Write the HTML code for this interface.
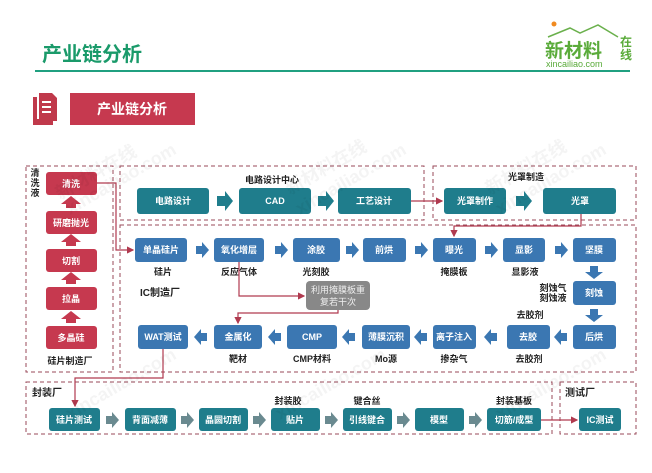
<!DOCTYPE html>
<html><head><meta charset="utf-8"><style>
body{margin:0;background:#fff;}
svg text{font-family:"Liberation Sans","Noto Sans CJK SC",sans-serif;}
</style></head><body>
<svg width="652" height="468" xmlns="http://www.w3.org/2000/svg">
<defs>
<marker id="ar" markerWidth="6" markerHeight="6" refX="5" refY="3" orient="auto"><path d="M0,0 L6,3 L0,6 z" fill="#b03a4f"/></marker>
</defs>
<rect width="652" height="468" fill="#fff"/>
<!-- header -->
<text x="42" y="61" font-size="20" font-weight="bold" fill="#1a9a6a">产业链分析</text>
<rect x="35" y="70" width="595" height="2" fill="#20a080"/>
<!-- logo -->
<circle cx="554" cy="24" r="2.5" fill="#f08a20"/>
<path d="M548,37 L570,28 L580,33 L598,25 L618,37" fill="none" stroke="#6ab04c" stroke-width="1.5"/>
<text x="545" y="57" font-size="19" font-weight="bold" fill="#5aab3a">新材料</text>
<text x="620" y="46" font-size="12" font-weight="bold" fill="#5aab3a">在</text>
<text x="620" y="59" font-size="12" font-weight="bold" fill="#5aab3a">线</text>
<text x="546" y="67" font-size="9" fill="#5aab3a">xincailiao.com</text>
<!-- section header -->
<rect x="33" y="97" width="20" height="28" fill="#c0394b"/>
<rect x="37" y="93" width="18" height="26" fill="#fff"/>
<path d="M39,93 h13 l5,5 v23 h-18 z" fill="#c0394b"/>
<rect x="42" y="101" width="9" height="2" fill="#fff"/><rect x="42" y="106" width="9" height="2" fill="#fff"/><rect x="42" y="111" width="9" height="2" fill="#fff"/>
<rect x="70" y="93" width="125" height="32" fill="#c6394f"/>
<text x="132" y="114" font-size="14" font-weight="bold" fill="#fff" text-anchor="middle">产业链分析</text>

<g fill="none" stroke="#9a4a5a" stroke-width="1" stroke-dasharray="4,3">
<rect x="26" y="166" width="87" height="206"/>
<rect x="120" y="166" width="304" height="54"/>
<rect x="433" y="166" width="203" height="54"/>
<rect x="120" y="225" width="516" height="147"/>
<rect x="26" y="382" width="526" height="52"/>
<rect x="560" y="382" width="76" height="52"/>
</g>

<g font-size="9" font-weight="bold" fill="#222" text-anchor="middle">
<text x="35" y="176">清</text><text x="35" y="186">洗</text><text x="35" y="196">液</text>
<text x="70" y="364">硅片制造厂</text>
<text x="272" y="183">电路设计中心</text>
<text x="526" y="180">光罩制造</text>
<text x="160" y="296" font-size="10">IC制造厂</text>
<text x="163" y="275">硅片</text><text x="239" y="275">反应气体</text><text x="316" y="275">光刻胶</text>
<text x="454" y="275">掩膜板</text><text x="525" y="275">显影液</text>
<text x="553" y="291">刻蚀气</text><text x="553" y="301">刻蚀液</text>
<text x="530" y="318">去胶剂</text>
<text x="529" y="362">去胶剂</text><text x="454" y="362">掺杂气</text><text x="386" y="362">Mo源</text><text x="312" y="362">CMP材料</text><text x="238" y="362">靶材</text>
<text x="288" y="404">封装胶</text><text x="367" y="404">键合丝</text><text x="514" y="404">封装基板</text>
</g>
<g font-size="10" font-weight="bold" fill="#222">
<text x="32" y="396">封装厂</text><text x="565" y="396">测试厂</text>
</g>

<!-- red boxes -->
<g fill="#c6394f">
<rect x="46" y="172" width="51" height="23" rx="3"/>
<rect x="46" y="211" width="51" height="23" rx="3"/>
<rect x="46" y="249" width="51" height="23" rx="3"/>
<rect x="46" y="287" width="51" height="23" rx="3"/>
<rect x="46" y="326" width="51" height="23" rx="3"/>
<path d="M66,208 v-4 h-5 l10,-8 l10,8 h-5 v4z M66,246 v-4 h-5 l10,-8 l10,8 h-5 v4z M66,284 v-4 h-5 l10,-8 l10,8 h-5 v4z M66,323 v-4 h-5 l10,-8 l10,8 h-5 v4z"/>
</g>
<g font-size="9" fill="#fff" text-anchor="middle" font-weight="bold">
<text x="71" y="187">清洗</text><text x="71" y="226">研磨抛光</text><text x="71" y="264">切割</text><text x="71" y="302">拉晶</text><text x="71" y="341">多晶硅</text>
</g>

<!-- teal design boxes -->
<g fill="#1f7d8c">
<rect x="137" y="188" width="72" height="26" rx="3"/>
<rect x="239" y="188" width="72" height="26" rx="3"/>
<rect x="338" y="188" width="73" height="26" rx="3"/>
<rect x="444" y="188" width="62" height="26" rx="3"/>
<rect x="543" y="188" width="73" height="26" rx="3"/>
</g>
<g fill="#1f7d8c">
<path d="M217,196 h8 v-5 l8,10 l-8,10 v-5 h-8z M318,196 h8 v-5 l8,10 l-8,10 v-5 h-8z M516,196 h8 v-5 l8,10 l-8,10 v-5 h-8z"/>
</g>
<g font-size="9" fill="#fff" text-anchor="middle" font-weight="bold">
<text x="173" y="204">电路设计</text><text x="275" y="204">CAD</text><text x="374" y="204">工艺设计</text><text x="475" y="204">光罩制作</text><text x="580" y="204">光罩</text>
</g>

<!-- blue IC boxes -->
<g fill="#3b77b2">
<rect x="135" y="238" width="52" height="24" rx="3"/>
<rect x="214" y="238" width="50" height="24" rx="3"/>
<rect x="293" y="238" width="47" height="24" rx="3"/>
<rect x="363" y="238" width="43" height="24" rx="3"/>
<rect x="433" y="238" width="43" height="24" rx="3"/>
<rect x="503" y="238" width="42" height="24" rx="3"/>
<rect x="573" y="238" width="43" height="24" rx="3"/>
<rect x="573" y="281" width="43" height="24" rx="3"/>
<rect x="573" y="325" width="43" height="24" rx="3"/>
<rect x="507" y="325" width="43" height="24" rx="3"/>
<rect x="433" y="325" width="43" height="24" rx="3"/>
<rect x="362" y="325" width="48" height="24" rx="3"/>
<rect x="287" y="325" width="50" height="24" rx="3"/>
<rect x="214" y="325" width="48" height="24" rx="3"/>
<rect x="138" y="325" width="50" height="24" rx="3"/>
<path d="M196,246 h6 v-4 l7,8 l-7,8 v-4 h-6z M275,246 h6 v-4 l7,8 l-7,8 v-4 h-6z M346,246 h6 v-4 l7,8 l-7,8 v-4 h-6z M415,246 h6 v-4 l7,8 l-7,8 v-4 h-6z M485,246 h6 v-4 l7,8 l-7,8 v-4 h-6z M555,246 h6 v-4 l7,8 l-7,8 v-4 h-6z"/>
<path d="M590,266 v6 h-5 l9,7 l9,-7 h-5 v-6z M590,309 v6 h-5 l9,7 l9,-7 h-5 v-6z"/>
<path d="M567,333 h-6 v-4 l-7,8 l7,8 v-4 h6z M497,333 h-6 v-4 l-7,8 l7,8 v-4 h6z M427,333 h-6 v-4 l-7,8 l7,8 v-4 h6z M355,333 h-6 v-4 l-7,8 l7,8 v-4 h6z M281,333 h-6 v-4 l-7,8 l7,8 v-4 h6z M207,333 h-6 v-4 l-7,8 l7,8 v-4 h6z"/>
</g>
<g font-size="9" fill="#fff" text-anchor="middle" font-weight="bold">
<text x="161" y="253">单晶硅片</text><text x="239" y="253">氧化增层</text><text x="316" y="253">涂胶</text><text x="384" y="253">前烘</text><text x="454" y="253">曝光</text><text x="524" y="253">显影</text><text x="594" y="253">坚膜</text>
<text x="594" y="296">刻蚀</text><text x="594" y="340">后烘</text><text x="528" y="340">去胶</text><text x="454" y="340">离子注入</text><text x="386" y="340">薄膜沉积</text><text x="312" y="340">CMP</text><text x="238" y="340">金属化</text><text x="163" y="340">WAT测试</text>
</g>
<rect x="306" y="281" width="64" height="29" rx="4" fill="#888"/>
<text x="338" y="293" font-size="9" fill="#eee" text-anchor="middle">利用掩膜板重</text>
<text x="338" y="305" font-size="9" fill="#eee" text-anchor="middle">复若干次</text>

<!-- packaging -->
<g fill="#1f7d8c">
<rect x="49" y="408" width="51" height="23" rx="3"/>
<rect x="125" y="408" width="51" height="23" rx="3"/>
<rect x="199" y="408" width="49" height="23" rx="3"/>
<rect x="271" y="408" width="49" height="23" rx="3"/>
<rect x="343" y="408" width="49" height="23" rx="3"/>
<rect x="415" y="408" width="49" height="23" rx="3"/>
<rect x="487" y="408" width="54" height="23" rx="3"/>
<rect x="579" y="408" width="42" height="23" rx="3"/>
</g>
<g fill="#6a8a90">
<path d="M106,416 h6 v-4 l7,8 l-7,8 v-4 h-6z M181,416 h6 v-4 l7,8 l-7,8 v-4 h-6z M253,416 h6 v-4 l7,8 l-7,8 v-4 h-6z M325,416 h6 v-4 l7,8 l-7,8 v-4 h-6z M397,416 h6 v-4 l7,8 l-7,8 v-4 h-6z M469,416 h6 v-4 l7,8 l-7,8 v-4 h-6z"/>
</g>
<g font-size="9" fill="#fff" text-anchor="middle" font-weight="bold">
<text x="74" y="423">硅片测试</text><text x="150" y="423">背面减薄</text><text x="223" y="423">晶圆切割</text><text x="295" y="423">贴片</text><text x="367" y="423">引线键合</text><text x="439" y="423">模型</text><text x="514" y="423">切筋/成型</text><text x="600" y="423">IC测试</text>
</g>

<!-- red connectors -->
<g fill="none" stroke="#b03a4f" stroke-width="1.2">
<path d="M97,183 H116 V250 H133" marker-end="url(#ar)"/>
<path d="M411,201 H442" marker-end="url(#ar)"/>
<path d="M581,214 V226 H454 V236" marker-end="url(#ar)"/>
<path d="M239,262 V296 H304" marker-end="url(#ar)"/>
<path d="M338,310 V313 H238 V323" marker-end="url(#ar)"/>
<path d="M163,349 V378 H75 V406" marker-end="url(#ar)"/>
<path d="M541,420 H577" marker-end="url(#ar)"/>
</g>

<!-- watermarks -->
<g font-size="18" fill="#000" opacity="0.045" font-weight="bold">
<text transform="translate(60,200) rotate(-30)">新材料在线</text>
<text transform="translate(70,215) rotate(-30)">xincailiao.com</text>
<text transform="translate(290,195) rotate(-30)">新材料在线</text>
<text transform="translate(300,215) rotate(-30)">xincailiao.com</text>
<text transform="translate(490,195) rotate(-30)">新材料在线</text>
<text transform="translate(500,215) rotate(-30)">xincailiao.com</text>
<text transform="translate(70,420) rotate(-30)">xincailiao.com</text>
<text transform="translate(280,420) rotate(-30)">xincailiao.com</text>
<text transform="translate(500,420) rotate(-30)">xincailiao.com</text>
</g>
</svg>
</body></html>
